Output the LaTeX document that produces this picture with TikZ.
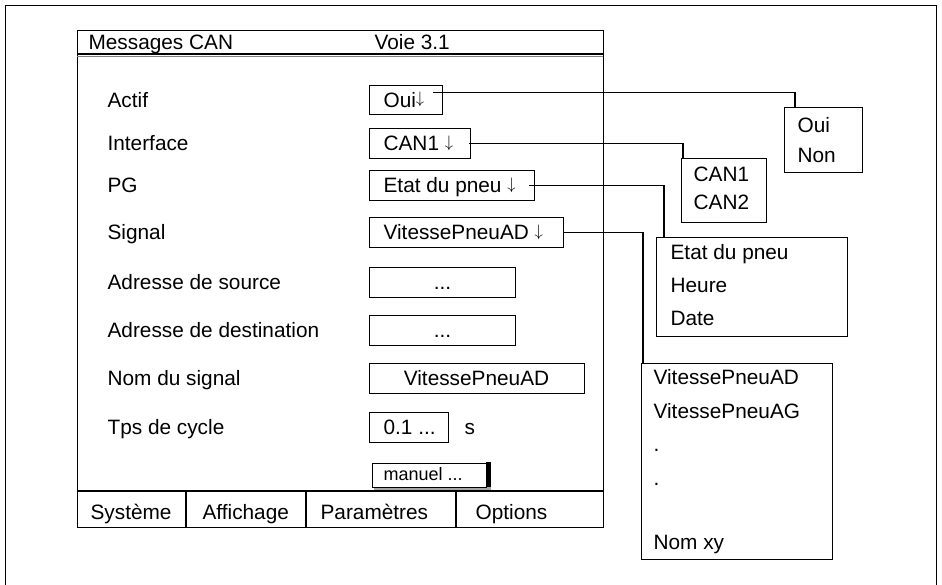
\documentclass[tikz,border=0pt]{standalone}
\usepackage{fontspec}
\setmainfont{Liberation Sans}
% thin drop-down arrow, as tall as the capitals
\newcommand{\dnarrow}{\raisebox{3.2pt}{\fontsize{20.74}{24}\selectfont\scalebox{0.8}{$\downarrow$}}}
\begin{document}
\begin{tikzpicture}[x=1pt,y=-1pt,line width=1.2pt,
  every node/.style={font=\fontsize{20.8}{25}\selectfont, inner sep=0pt},
  lbl/.style={anchor=base west},
  ctr/.style={anchor=base},
  boxed/.style 2 args={draw, anchor=north west, minimum width=#1, minimum height=#2},
  link/.style={line width=1.1pt}]
\useasboundingbox (0,0) rectangle (942,584);
% page frame
\draw[line width=1pt] (5,5) rectangle (936,600);

% dialog window
\node[boxed={526}{497}] (win) at (77,30) {};
\draw[line width=2pt] (77,54) -- (603,54);
\draw[line width=1pt, gray] (77,56.5) -- (603,56.5);
\node[lbl] (title) at (88,49) {Messages CAN};
\node[lbl] (chan) at (374,49) {Voie 3.1};

% field labels
\node[lbl] (lact) at (107,107.5) {Actif};
\node[lbl] (lint) at (107,150.5) {Interface};
\node[lbl] (lpg)  at (107,192.5) {PG};
\node[lbl] (lsig) at (107,239.5) {Signal};
\node[lbl] (lsrc) at (107,289.5) {Adresse de source};
\node[lbl] (ldst) at (107,337.5) {Adresse de destination};
\node[lbl] (lnom) at (107,385.5) {Nom du signal};
\node[lbl] (ltps) at (107,434.5) {Tps de cycle};

% value fields
\node[boxed={73}{29}]  (oui)  at (369,85)  {};
\node[lbl] (ouit) at (383,107) {Oui\dnarrow};
\node[boxed={101}{30}] (can)  at (369,128) {};
\node[lbl] (cant) at (383,150.5) {CAN1 \dnarrow};
\node[boxed={165}{30}] (pg)   at (369,170) {};
\node[lbl] (pgt) at (383,192.5) {Etat du pneu \dnarrow};
\node[boxed={194}{30}] (sig)  at (369,217) {};
\node[lbl] (sigt) at (383,239.5) {VitessePneuAD \dnarrow};
\node[boxed={146}{30}] (src)  at (369,267) {};
\node[ctr] (srct) at (442.5,289) {...};
\node[boxed={146}{30}] (dst)  at (369,315) {};
\node[ctr] (dstt) at (442.5,337) {...};
\node[boxed={215}{30}] (nom)  at (369,363) {};
\node[ctr] (nomt) at (476.5,385.5) {VitessePneuAD};
\node[boxed={79}{30}]  (tps)  at (369,412) {};
\node[lbl] (tpst) at (383,434.5) {0.1 ...};
\node[lbl] (unit) at (464,434.5) {s};

% push button with shadow
\fill[black] (486,462) rectangle (491,490);
\fill[gray!70] (374,487) rectangle (491,490);
\node[boxed={114}{24}, fill=white, line width=1pt] (man) at (372,463) {};
\node[lbl, font=\fontsize{18}{22}\selectfont] (mant) at (383,480.5) {manuel ...};

% menu bar
\draw[line width=2pt] (77,491) -- (603,491);
\draw (186,491) -- (186,527);
\draw (306,491) -- (306,527);
\draw (456,491) -- (456,527);
\node[lbl] (m1) at (90,519.5)  {Système};
\node[lbl] (m2) at (202,519.5) {Affichage};
\node[lbl] (m3) at (320,519.5) {Paramètres};
\node[lbl] (m4) at (475,519.5) {Options};

% drop-down lists
\node[boxed={78}{65}] (lstoui) at (784,107) {};
\node[lbl] (o1) at (797,132) {Oui};
\node[lbl] (o2) at (797,162) {Non};

\node[boxed={85}{64}] (lstcan) at (681,158) {};
\node[lbl] (c1) at (693,181) {CAN1};
\node[lbl] (c2) at (693,209) {CAN2};

\node[boxed={191}{99}] (lstpg) at (656,237) {};
\node[lbl] (p1) at (670,259) {Etat du pneu};
\node[lbl] (p2) at (670,292) {Heure};
\node[lbl] (p3) at (670,325) {Date};

\node[boxed={191}{196}] (lstsig) at (641,363) {};
\node[lbl] (s1) at (653,384) {VitessePneuAD};
\node[lbl] (s2) at (653,418) {VitessePneuAG};
\node[lbl] (s3) at (653,451) {.};
\node[lbl] (s4) at (653,485) {.};
\node[lbl] (s5) at (653,549) {Nom xy};

% connectors from fields to their lists
\draw[link] ([xshift=-10pt,yshift=7.5pt]oui.east) -| ([xshift=11pt]lstoui.north west);
\draw[link] ([xshift=-2pt]can.east) -| ([xshift=2pt]lstcan.north west);
\draw[link] ([xshift=-6pt]pg.east) -| ([xshift=8pt]lstpg.north west);
\draw[link] ([xshift=-1pt]sig.east) -| ([xshift=2pt]lstsig.north west);
\end{tikzpicture}
\end{document}
